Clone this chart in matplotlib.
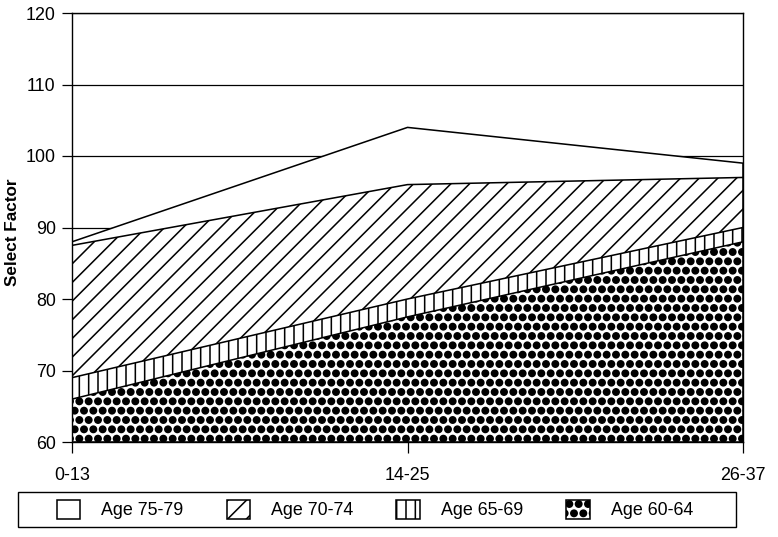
import numpy as np
import matplotlib
import matplotlib.pyplot as plt
import matplotlib.hatch
from matplotlib.patches import Rectangle

matplotlib.rcParams['font.family'] = ['Liberation Sans', 'DejaVu Sans']
matplotlib.rcParams['hatch.linewidth'] = 1.0
# bigger filled dots for the '.' hatch
matplotlib.hatch.SmallFilledCircles.size = 0.34

periods = ["0-13", "14-25", "26-37"]
age_75_79 = [88, 104, 99]
age_70_74 = [87.5, 96, 97]
age_65_69 = [69, 80, 90]
age_60_64 = [66, 77.5, 88]

series = [("Age 75-79", age_75_79, ""),
          ("Age 70-74", age_70_74, "//"),
          ("Age 65-69", age_65_69, "||"),
          ("Age 60-64", age_60_64, "..")]

W, H, DPI = 778, 537, 112
fig = plt.figure(figsize=(W / DPI, H / DPI), dpi=DPI)
ax = fig.add_axes([72 / W, 1 - 442 / H, (743 - 72) / W, (442 - 13) / H])

x = np.arange(len(periods))
ax.set_ylim(60, 120)
ax.set_yticks(range(60, 121, 10))
ax.set_xlim(x[0], x[-1])
ax.set_xticks(x)
ax.set_xticklabels(periods)

ax.yaxis.grid(True, color="black", linewidth=0.8, zorder=0)
ax.set_axisbelow(True)

for label, vals, hatch in series:
    ax.fill_between(x, 60, vals, facecolor="white", edgecolor="black",
                    hatch=hatch, linewidth=1.0, label=label, zorder=2)

for s in ax.spines.values():
    s.set_linewidth(0.9)
    s.set_zorder(5)

ax.tick_params(axis="y", length=6.5, width=0.8, pad=4, labelsize=11.5)
ax.tick_params(axis="x", length=7, width=0.8, pad=9, labelsize=11.5)
ax.set_ylabel("Select Factor", fontsize=11, fontweight="bold")
ax.yaxis.set_label_coords(-0.077, 0.49)

handles, labels = ax.get_legend_handles_labels()
fig.legend(handles, labels, loc="center",
           bbox_to_anchor=(375 / W, 1 - 509.5 / H), ncol=4, frameon=False,
           fontsize=11.5, handlelength=1.3, handleheight=1.3,
           handletextpad=1.2, columnspacing=2.4)
fig.add_artist(Rectangle((18 / W, 1 - 527 / H), 718 / W, 35 / H,
                         transform=fig.transFigure, fill=False,
                         edgecolor="black", linewidth=0.9))

fig.savefig("out.png", dpi=DPI)
